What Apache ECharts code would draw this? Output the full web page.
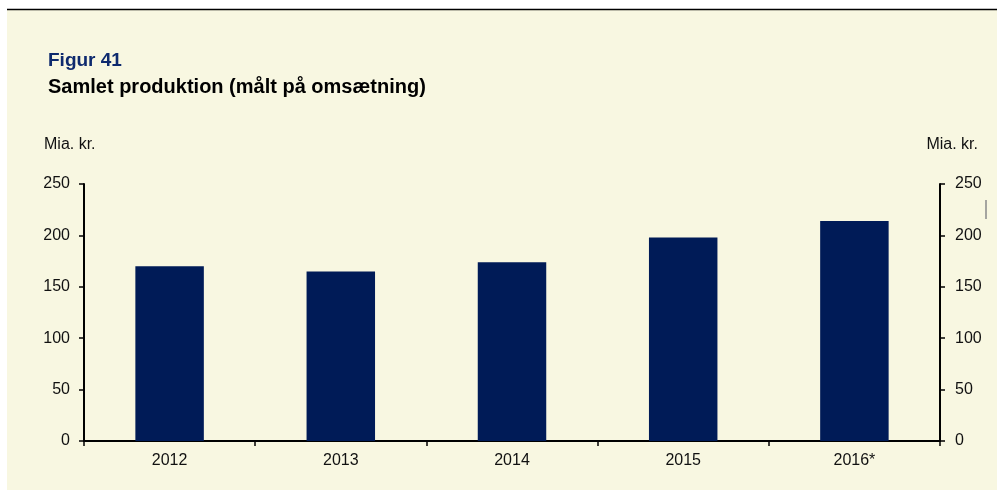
<!DOCTYPE html>
<html>
<head>
<meta charset="utf-8">
<script src="https://cdn.jsdelivr.net/npm/echarts@6/dist/echarts.min.js"></script>
<style>
  html, body { margin: 0; padding: 0; background: #ffffff; }
  #chart { width: 997px; height: 490px; }
</style>
</head>
<body>
<div id="chart"></div>
<script>
// Samlet produktion, mia. kr.
var years = ['2012', '2013', '2014', '2015', '2016*'];
var production = [170, 165, 174, 198, 214];
var yTicks = [0, 50, 100, 150, 200, 250];

var FONT = '"Liberation Sans", Arial, sans-serif';
var chart = echarts.init(document.getElementById('chart'), null, { renderer: 'canvas' });

function valueAxis(position, margin) {
  return {
    type: 'value',
    position: position,
    min: yTicks[0],
    max: yTicks[yTicks.length - 1],
    interval: yTicks[1] - yTicks[0],
    splitLine: { show: false },
    axisLine: { show: true, lineStyle: { color: '#000', width: 2 } },
    axisTick: { show: true, length: 5, lineStyle: { color: '#000', width: 1.5 } },
    axisLabel: { color: '#111', fontFamily: FONT, fontSize: 16, margin: margin }
  };
}

chart.setOption({
  backgroundColor: '#ffffff',
  animation: false,
  graphic: [
    { type: 'rect', z: -10, shape: { x: 7, y: 10, width: 990, height: 480 }, style: { fill: '#F8F7E1' } },
    { type: 'line', shape: { x1: 7, y1: 9.5, x2: 997, y2: 9.5 }, style: { stroke: '#000', lineWidth: 1.5 } },
    { type: 'text', left: 48, top: 51, style: { text: 'Figur 41', fill: '#0E2A6E', font: 'bold 19px ' + FONT } },
    { type: 'text', left: 48, top: 77, style: { text: 'Samlet produktion (målt på omsætning)', fill: '#000', font: 'bold 20px ' + FONT } },
    { type: 'text', left: 44, top: 137, style: { text: 'Mia. kr.', fill: '#111', font: '16px ' + FONT } },
    { type: 'text', right: 19, top: 137, style: { text: 'Mia. kr.', fill: '#111', font: '16px ' + FONT } },
    { type: 'line', shape: { x1: 986, y1: 200, x2: 986, y2: 219 }, style: { stroke: '#8a8a8a', lineWidth: 1.5 } }
  ],
  grid: { left: 84, right: 57, top: 184, bottom: 49, containLabel: false },
  xAxis: {
    type: 'category',
    data: years,
    axisLine: { show: true, lineStyle: { color: '#000', width: 2 } },
    axisTick: { show: true, alignWithLabel: false, length: 5, lineStyle: { color: '#000', width: 1.5 } },
    axisLabel: { color: '#111', fontFamily: FONT, fontSize: 16, margin: 12 }
  },
  yAxis: [valueAxis('left', 14), valueAxis('right', 15)],
  series: [{
    type: 'bar',
    yAxisIndex: 0,
    data: production,
    barWidth: '40%',
    itemStyle: { color: '#001B57' }
  }]
});
</script>
</body>
</html>
